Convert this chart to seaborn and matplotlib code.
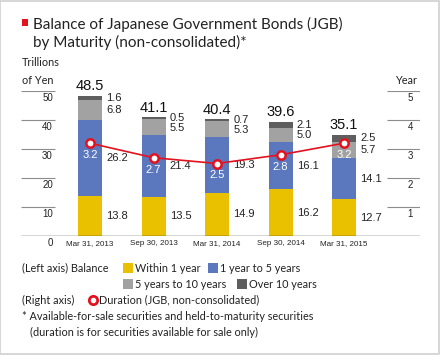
import numpy as np
import seaborn as sns
import matplotlib.pyplot as plt
from matplotlib import font_manager
from matplotlib.patches import Rectangle
from matplotlib.lines import Line2D

dates = ["Mar 31, 2013", "Sep 30, 2013", "Mar 31, 2014", "Sep 30, 2014", "Mar 31, 2015"]
within_1y = [13.8, 13.5, 14.9, 16.2, 12.7]
y1_to_5 = [26.2, 21.4, 19.3, 16.1, 14.1]
y5_to_10 = [6.8, 5.5, 5.3, 5.0, 5.7]
over_10 = [1.6, 0.5, 0.7, 2.1, 2.5]
totals = [48.5, 41.1, 40.4, 39.6, 35.1]
duration = [3.2, 2.7, 2.5, 2.8, 3.2]

left_ticks = [0, 10, 20, 30, 40, 50]
right_ticks = [1, 2, 3, 4, 5]

layer_names = ["Within 1 year", "1 year to 5 years", "5 years to 10 years", "Over 10 years"]
layer_colors = ["#E9C100", "#5B78BE", "#A2A2A2", "#5E5E5E"]
red = "#E2121F"

names = {f.name for f in font_manager.fontManager.ttflist}
NARROW = "Liberation Sans Narrow" if "Liberation Sans Narrow" in names else "Liberation Sans"
TXT = "Lato"

sns.set_style("white")
plt.rcParams["font.family"] = [TXT, "DejaVu Sans"]

W, H = 440, 355
fig = plt.figure(figsize=(4.4, 3.55), dpi=100)


def fx(px):
    return px / W


def fy(py):
    return 1 - py / H


ax = fig.add_axes([fx(21), fy(236), (420 - 21) / W, 145 / H])

# stacked bars, drawn tallest first
layers = [within_1y, y1_to_5, y5_to_10, over_10]
cum = np.cumsum(np.array(layers), axis=0)
for k in reversed(range(4)):
    sns.barplot(x=dates, y=cum[k], color=layer_colors[k], width=0.378,
                saturation=1, errorbar=None, linewidth=0, ax=ax)

for i in range(len(dates)):
    xr = i + 0.189
    top_c = cum[2][i] + over_10[i] / 2
    mid_c = min(cum[1][i] + y5_to_10[i] / 2, top_c - 3.3)
    ypos = [within_1y[i] / 2, cum[0][i] + y1_to_5[i] / 2, mid_c, top_c]
    for k in range(4):
        ax.annotate(f"{layers[k][i]:.1f}", xy=(xr, ypos[k]), xytext=(3, 0),
                    textcoords="offset points", ha="left", va="center",
                    fontsize=8, family=NARROW, color="#222222")
    ax.annotate(f"{totals[i]:.1f}", xy=(i, cum[3][i]), xytext=(0, 2),
                textcoords="offset points", ha="center", va="bottom",
                fontsize=10.5, family=NARROW, color="#111111")

# grid stubs and baseline
ax.hlines(left_ticks[1:], 0, 0.085, transform=ax.get_yaxis_transform(),
          color="#8c8c8c", lw=0.8)
ax.axhline(0, color="#333333", lw=1.0)
for v in left_ticks:
    ax.annotate(str(v), xy=(0.08, v), xycoords=ax.get_yaxis_transform(),
                xytext=(0, -5), textcoords="offset points", ha="right",
                va="center", fontsize=7, family=NARROW, color="#222222")

# duration on right axis
ax2 = ax.twinx()
sns.lineplot(x=np.arange(len(dates)), y=duration, ax=ax2, color=red, lw=1.2,
             marker="o", markersize=6, markerfacecolor="white",
             markeredgecolor=red, markeredgewidth=1.8)
for i, d in enumerate(duration):
    ax2.annotate(f"{d:.1f}", xy=(i, d), xytext=(0, -8.5), textcoords="offset points",
                 ha="center", va="center", fontsize=8, family=NARROW, color="white")
ax2.set_ylim(0, 5)
ax2.hlines(right_ticks, 0.917, 1, transform=ax2.get_yaxis_transform(),
           color="#8c8c8c", lw=0.8)
for v in right_ticks:
    ax2.annotate(str(v), xy=(0.982, v), xycoords=ax2.get_yaxis_transform(),
                 xytext=(0, -5), textcoords="offset points", ha="right",
                 va="center", fontsize=7, family=NARROW, color="#222222")

ax.set_ylim(0, 50)
ax.set_xlim(-1.087, 5.197)
ax.set_xticks(range(len(dates)))
ax.set_xticklabels(dates, fontsize=5.8, family="Liberation Sans", color="#222222")
ax.tick_params(axis="x", length=0, pad=3)
for a in (ax, ax2):
    a.set_yticks([])
    a.set_ylabel("")
    a.set_xlabel("")
    for s in a.spines.values():
        s.set_visible(False)

# axis captions
fig.text(fx(22), fy(63), "Trillions", fontsize=7.8, va="center", color="#222222")
fig.text(fx(22), fy(80), "of Yen", fontsize=7.8, va="center", color="#222222")
fig.text(fx(418), fy(80), "Year", fontsize=7.8, va="center", ha="right", color="#222222")

# title
fig.patches.append(Rectangle((fx(22), fy(26)), 6 / W, 7 / H, transform=fig.transFigure,
                             color=red, lw=0))
fig.text(fx(33), fy(24), "Balance of Japanese Government Bonds (JGB)",
         fontsize=11, va="center", color="#222222")
fig.text(fx(33), fy(42), "by Maturity (non-consolidated)*",
         fontsize=11, va="center", color="#222222")

# legend
lg = dict(fontsize=7.8, va="center", color="#222222")
fig.text(fx(22), fy(268), "(Left axis) Balance", **lg)
legend_pos = [(123, 268), (208, 268), (123, 284), (237, 284)]
for k, (px, py) in enumerate(legend_pos):
    fig.patches.append(Rectangle((fx(px), fy(py + 5)), 10 / W, 10 / H,
                                 transform=fig.transFigure, color=layer_colors[k], lw=0))
    fig.text(fx(px + 12), fy(py), layer_names[k], **lg)
fig.text(fx(22), fy(300), "(Right axis)", **lg)
fig.lines.append(Line2D([fx(93)], [fy(300)], transform=fig.transFigure, marker="o",
                        markersize=6, markerfacecolor="white", markeredgecolor=red,
                        markeredgewidth=2))
fig.text(fx(99), fy(300), "Duration (JGB, non-consolidated)", **lg)
fig.text(fx(22), fy(316), "* Available-for-sale securities and held-to-maturity securities", **lg)
fig.text(fx(30), fy(332), "(duration is for securities available for sale only)", **lg)

fig.patches.append(Rectangle((0.001, 0.002), 0.997, 0.996, transform=fig.transFigure,
                             fill=False, edgecolor="#d0d0d0", lw=1.2))

fig.savefig("out.png", dpi=100)
